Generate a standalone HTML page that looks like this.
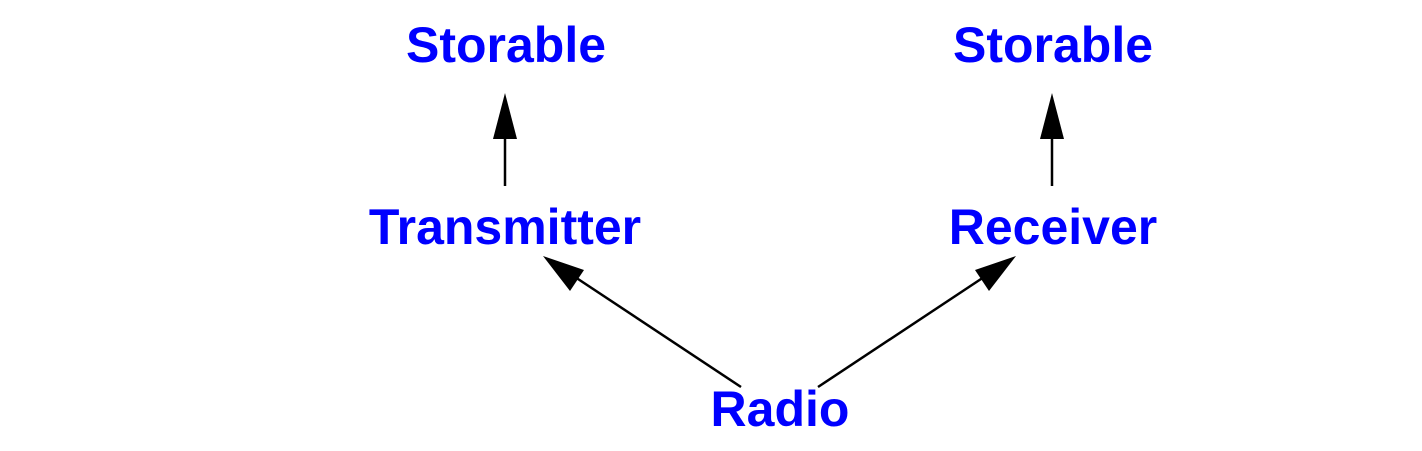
<!DOCTYPE html>
<html><head><meta charset="utf-8"><style>
html,body{margin:0;padding:0;background:#fff;}
svg{display:block;}
text{font-family:"Liberation Sans",Arial,sans-serif;font-weight:bold;font-size:50px;fill:#0000ff;text-anchor:middle;}
</style></head><body>
<svg width="1422" height="451" viewBox="0 0 1422 451" xmlns="http://www.w3.org/2000/svg">
<text x="506" y="62">Storable</text>
<text x="1053" y="62">Storable</text>
<text x="505" y="244">Transmitter</text>
<text x="1053" y="244">Receiver</text>
<text x="780" y="426">Radio</text>
<g stroke="#000" stroke-width="2.5" fill="none">
<line x1="505" y1="186" x2="505" y2="136"/>
<line x1="1052" y1="186" x2="1052" y2="136"/>
<line x1="741" y1="387" x2="575" y2="277"/>
<line x1="818" y1="387" x2="984" y2="277"/>
</g>
<g fill="#000">
<polygon points="505,93 493,139 517,139"/>
<polygon points="1052,93 1040,139 1064,139"/>
<polygon points="543,256 570,291 584,270"/>
<polygon points="1016,256 975,270 989,291"/>
</g>
</svg>
</body></html>
